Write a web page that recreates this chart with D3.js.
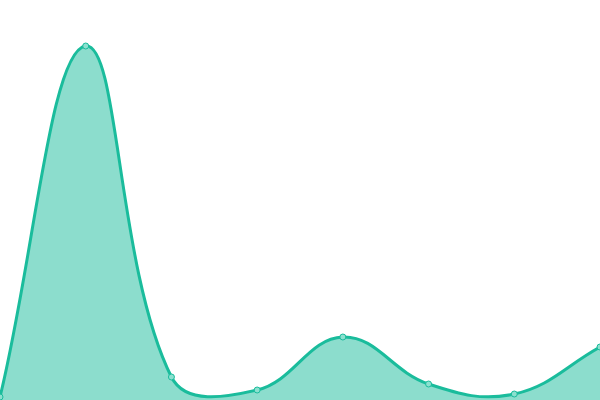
<!DOCTYPE html>
<html>
<head>
<meta charset="utf-8">
<script src="https://cdn.jsdelivr.net/npm/d3@7"></script>
<style>
  html, body { margin: 0; padding: 0; background: #fff; overflow: hidden; }
  svg { display: block; }
</style>
</head>
<body>
<svg id="chart"></svg>
<script>
const WIDTH = 600;
const HEIGHT = 400;

const labels = ['1', '2', '3', '4', '5', '6', '7', '8'];
const values = [0.75, 88.5, 5.75, 2.5, 15.75, 4, 1.5, 13.25];

const LINE_COLOR = '#1abc9c';
const FILL_COLOR = 'rgba(26, 188, 156, 0.5)';
const TENSION = 0.4;

// spline with distance-weighted control points (keeps overshoot small)
class SplineCurve {
  constructor(context, tension) {
    this._context = context;
    this._t = tension;
  }
  areaStart() { this._line = 0; }
  areaEnd() { this._line = NaN; }
  lineStart() { this._pts = []; }
  point(x, y) { this._pts.push([+x, +y]); }
  lineEnd() {
    const p = this._pts;
    const n = p.length;
    const ctx = this._context;
    if (n) {
      const cps = p.map((cur, i) => {
        const prev = p[i - 1] || cur;
        const next = p[i + 1] || cur;
        const d01 = Math.hypot(cur[0] - prev[0], cur[1] - prev[1]);
        const d12 = Math.hypot(next[0] - cur[0], next[1] - cur[1]);
        let s01 = d01 / (d01 + d12);
        let s12 = d12 / (d01 + d12);
        if (!isFinite(s01)) s01 = 0;
        if (!isFinite(s12)) s12 = 0;
        const fa = this._t * s01;
        const fb = this._t * s12;
        return {
          before: [cur[0] - fa * (next[0] - prev[0]), cur[1] - fa * (next[1] - prev[1])],
          after: [cur[0] + fb * (next[0] - prev[0]), cur[1] + fb * (next[1] - prev[1])],
        };
      });
      this._line ? ctx.lineTo(p[0][0], p[0][1]) : ctx.moveTo(p[0][0], p[0][1]);
      for (let i = 1; i < n; i++) {
        const a = cps[i - 1].after;
        const b = cps[i].before;
        ctx.bezierCurveTo(a[0], a[1], b[0], b[1], p[i][0], p[i][1]);
      }
    }
    if (this._line || (this._line !== 0 && n === 1)) ctx.closePath();
    this._line = 1 - this._line;
  }
}
const curveSpline = (context) => new SplineCurve(context, TENSION);

const svg = d3.select('#chart').attr('width', WIDTH).attr('height', HEIGHT);

const x = d3.scalePoint().domain(labels).range([0, WIDTH]);
const y = d3.scaleLinear().domain([0, 100]).range([HEIGHT, 0]);

const data = labels.map((d, i) => ({ label: d, value: values[i] }));

const area = d3.area()
  .x((d) => x(d.label))
  .y0(y(0))
  .y1((d) => y(d.value))
  .curve(curveSpline);

const line = d3.line()
  .x((d) => x(d.label))
  .y((d) => y(d.value))
  .curve(curveSpline);

svg.append('path').datum(data).attr('d', area).attr('fill', FILL_COLOR);
svg.append('path').datum(data).attr('d', line)
  .attr('fill', 'none').attr('stroke', LINE_COLOR).attr('stroke-width', 3);

svg.selectAll('circle.pt').data(data).join('circle')
  .attr('class', 'pt')
  .attr('cx', (d) => x(d.label))
  .attr('cy', (d) => y(d.value))
  .attr('r', 3)
  .attr('fill', '#8ce0cf')
  .attr('stroke', LINE_COLOR)
  .attr('stroke-width', 1);
</script>
</body>
</html>
